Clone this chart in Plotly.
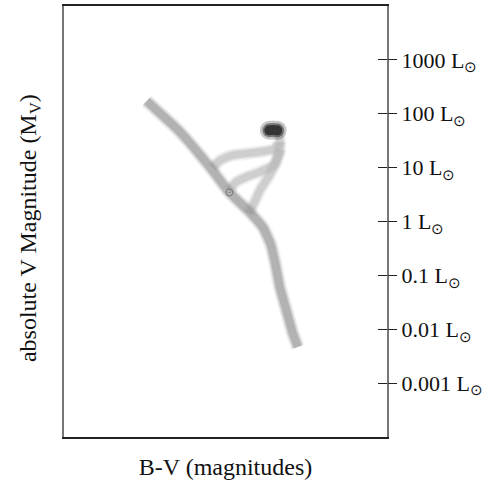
import plotly.graph_objects as go

# B-V colour index (x) and absolute V magnitude (y)
ms_bv = [0.14, 0.40, 0.65, 0.78, 0.94, 1.04, 1.10, 1.14, 1.17, 1.22, 1.27, 1.31]
ms_mv = [-0.76, 0.69, 2.46, 3.48, 4.41, 5.11, 5.90, 6.92, 7.86, 8.93, 10.00, 10.65]

brA_bv = [0.65, 0.71, 0.80, 0.99, 1.12, 1.17, 1.16]
brA_mv = [2.32, 1.99, 1.76, 1.62, 1.48, 1.15, 0.73]

brB_bv = [0.78, 0.83, 0.92, 1.03, 1.13, 1.17, 1.17]
brB_mv = [3.39, 3.01, 2.74, 2.50, 2.18, 1.57, 1.15]

brC_bv = [0.93, 0.97, 1.02, 1.09, 1.14, 1.17]
brC_mv = [4.46, 3.99, 3.34, 2.69, 2.04, 1.48]

clump_bv = [1.09, 1.12, 1.15]
clump_mv = [0.60, 0.58, 0.60]

sun_bv = [0.78]
sun_mv = [3.48]

lum_vals = [1e3, 1e2, 1e1, 1, 0.1, 0.01, 0.001]
lum_text = ["1000 L<sub>⊙</sub>", "100 L<sub>⊙</sub>", "10 L<sub>⊙</sub>", "1 L<sub>⊙</sub>",
            "0.1 L<sub>⊙</sub>", "0.01 L<sub>⊙</sub>", "0.001 L<sub>⊙</sub>"]

FONT = "Liberation Serif, Times New Roman, serif"

fig = go.Figure()


def blurred(x, y, color, layers):
    for w, op in layers:
        fig.add_trace(go.Scatter(x=x, y=y, mode="lines",
                                 line=dict(color=color, width=w, shape="spline", smoothing=0.5),
                                 opacity=op, hoverinfo="skip", showlegend=False))


branch_layers = [(13, 0.15), (10, 0.3), (7, 0.45)]
blurred(brA_bv, brA_mv, "#b8b8b8", branch_layers)
blurred(brB_bv, brB_mv, "#b8b8b8", branch_layers)
blurred(brC_bv, brC_mv, "#b8b8b8", branch_layers)
blurred(ms_bv, ms_mv, "#939393", [(14, 0.15), (11, 0.3), (8, 0.5)])

for size, op in [(19, 0.25), (14, 0.5), (10, 0.85)]:
    fig.add_trace(go.Scatter(x=clump_bv, y=clump_mv, mode="markers",
                             marker=dict(color="#2a2a2a", size=size, line=dict(width=0)),
                             opacity=op, hoverinfo="skip", showlegend=False))

fig.add_trace(go.Scatter(x=sun_bv, y=sun_mv, mode="markers",
                         marker=dict(symbol="circle-open-dot", color="#777777", size=7,
                                     line=dict(width=1)),
                         hoverinfo="skip", showlegend=False))

# invisible carriers so the luminosity axes are drawn
for ax in ["y2", "y3"]:
    fig.add_trace(go.Scatter(x=[0.0] * len(lum_vals), y=lum_vals, yaxis=ax, mode="markers",
                             marker=dict(opacity=0), hoverinfo="skip", showlegend=False))

fig.update_layout(
    width=488, height=480,
    margin=dict(l=64, r=101, t=6, b=43),
    paper_bgcolor="white", plot_bgcolor="white",
    font=dict(family=FONT, color="#111111"),
    xaxis=dict(range=[-0.5, 2.0], showticklabels=False, ticks="", showgrid=False,
               zeroline=False, showline=True, mirror=True, linecolor="#222222", linewidth=1.5,
               automargin=False,
               title=dict(text="B-V (magnitudes)", font=dict(size=24, family=FONT), standoff=20)),
    yaxis=dict(range=[14.83, -5.17], showticklabels=False, ticks="", showgrid=False,
               zeroline=False, showline=True, mirror=True, linecolor="#777777", linewidth=1.5,
               automargin=False),
    yaxis2=dict(overlaying="y", side="right", type="log", range=[-4, 4],
                tickvals=lum_vals, ticktext=lum_text, ticks="outside", ticklen=9,
                tickcolor="#222222", tickwidth=1.2, showgrid=False, zeroline=False,
                showline=False, automargin=False, tickfont=dict(size=22, family=FONT)),
    yaxis3=dict(overlaying="y", side="right", type="log", range=[-4, 4],
                tickvals=lum_vals, ticks="inside", ticklen=9, showticklabels=False,
                tickcolor="#222222", tickwidth=1.2, showgrid=False, zeroline=False,
                showline=False, automargin=False),
    annotations=[dict(text="absolute V Magnitude (M<sub>V</sub>)", xref="paper", yref="paper",
                      x=-0.105, y=0.485, xanchor="center", yanchor="middle", textangle=-90,
                      showarrow=False, font=dict(size=24, family=FONT, color="#111111"))],
)

fig.write_html("out.html", config={"displayModeBar": False},
               post_script="document.body.style.margin='0';")
